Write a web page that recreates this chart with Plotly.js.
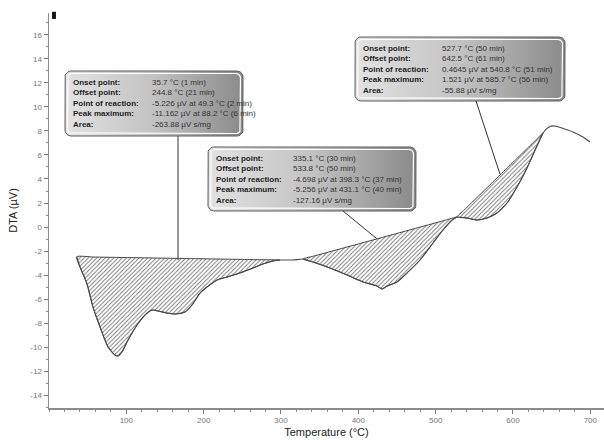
<!DOCTYPE html>
<html>
<head>
<meta charset="utf-8">
<script src="https://cdn.plot.ly/plotly-3.0.1.min.js"></script>
<style>html,body{margin:0;padding:0;background:#fff;}#chart{width:604px;height:443px;}</style>
</head>
<body>
<div id="chart"></div>
<script>
// ---- data ----
const temperature = [35.8, 40.1, 48.8, 56.9, 66.0, 76.3, 85.3, 89.0, 94.4, 102.2, 113.8, 124.1, 133.2, 141.0, 152.6, 162.9, 175.9, 184.9, 195.3, 204.3, 217.3, 230.2, 247.0, 263.8, 276.7, 289.7, 298.7, 315.5, 328.5, 341.4, 363.4, 385.4, 406.1, 424.2, 430.6, 437.1, 450.0, 463.0, 479.8, 496.6, 509.5, 521.2, 527.6, 540.5, 553.5, 566.4, 579.3, 592.3, 605.2, 618.1, 629.8, 638.8, 646.6, 654.3, 663.4, 677.6, 690.5, 699.6];
const dta = [-2.48, -3.33, -4.67, -6.67, -8.33, -10.0, -10.67, -10.75, -10.4, -9.42, -8.17, -7.33, -6.92, -7.0, -7.17, -7.25, -7.08, -6.5, -5.5, -5.0, -4.42, -4.17, -3.83, -3.42, -3.08, -2.83, -2.75, -2.75, -2.67, -2.92, -3.42, -4.0, -4.58, -4.92, -5.17, -4.92, -4.58, -3.83, -2.75, -1.33, -0.25, 0.58, 0.83, 0.75, 0.58, 0.75, 1.17, 2.0, 3.33, 4.92, 6.58, 7.83, 8.33, 8.42, 8.25, 7.92, 7.5, 7.08];
const peakStart = [35.8, 328.5, 527.6];
const peakEnd = [298.7, 527.6, 638.8];
const xTicks = [100, 200, 300, 400, 500, 600, 700];
const yTicks = [-14, -12, -10, -8, -6, -4, -2, 0, 2, 4, 6, 8, 10, 12, 14, 16];
const boxLabels = ['Onset point:', 'Offset point:', 'Point of reaction:', 'Peak maximum:', 'Area:'];
const box1Values = ['35.7 °C (1 min)', '244.8 °C (21 min)', '-5.226 µV at 49.3 °C (2 min)', '-11.162 µV at 88.2 °C (6 min)', '-263.88 µV s/mg'];
const box2Values = ['335.1 °C (30 min)', '533.8 °C (50 min)', '-4.698 µV at 398.3 °C (37 min)', '-5.256 µV at 431.1 °C (40 min)', '-127.16 µV s/mg'];
const box3Values = ['527.7 °C (50 min)', '642.5 °C (61 min)', '0.4645 µV at 540.8 °C (51 min)', '1.521 µV at 585.7 °C (56 min)', '-55.88 µV s/mg'];
const leaderTargets = [[166.8, -2.75], [424.2, -0.99], [583.2, 4.4]];

// ---- layout helpers ----
const X_MIN = 0, X_MAX = 717.7, Y_MIN = -15.08, Y_MAX = 17.83;
const PL = 49, PR = 604, PT = 13, PB = 408;
const pxX = p => X_MIN + (p - PL) / (PR - PL) * (X_MAX - X_MIN);
const pxY = p => Y_MAX - (p - PT) / (PB - PT) * (Y_MAX - Y_MIN);

function roundRect(l, t, r, b, rad) {
  const xs = [], ys = [];
  const corners = [[r - rad, t + rad, -90], [r - rad, b - rad, 0], [l + rad, b - rad, 90], [l + rad, t + rad, 180]];
  corners.forEach(([cx, cy, a0]) => {
    for (let k = 0; k <= 6; k++) {
      const a = (a0 + k * 15) * Math.PI / 180;
      xs.push(cx + rad * Math.cos(a)); ys.push(cy + rad * Math.sin(a));
    }
  });
  xs.push(xs[0]); ys.push(ys[0]);
  return {x: xs.map(pxX), y: ys.map(pxY)};
}

const traces = [];
// hatched peak areas: curve segment, closed back along the straight baseline
peakStart.forEach((s, i) => {
  const xs = [], ys = [];
  temperature.forEach((t, j) => { if (t >= s - 1e-6 && t <= peakEnd[i] + 1e-6) { xs.push(t); ys.push(dta[j]); } });
  const x0 = xs[0], y0 = ys[0], x1 = xs[xs.length - 1], y1 = ys[ys.length - 1];
  const n = 12;
  for (let k = 1; k <= n; k++) { const f = k / n; xs.push(x1 + (x0 - x1) * f); ys.push(y1 + (y0 - y1) * f); }
  traces.push({x: xs, y: ys, mode: 'lines', fill: 'toself', fillcolor: 'white',
    fillpattern: {shape: '/', fgcolor: '#777', bgcolor: 'white', size: 3, solidity: 0.3},
    line: {color: '#444', width: 1, shape: 'spline', smoothing: 0.6}, hoverinfo: 'skip', showlegend: false});
});
// DTA curve
traces.push({x: temperature, y: dta, mode: 'lines', line: {color: '#4a4a4a', width: 1.1, shape: 'spline', smoothing: 0.6}, showlegend: false});

// callout boxes
const boxes = [
  {l: 65, t: 71, r: 243, b: 136, vx: 150, vals: box1Values, lead: [178, 136]},
  {l: 208, t: 147, r: 416, b: 211, vx: 291, vals: box2Values, lead: [343, 211]},
  {l: 355, t: 37, r: 565, b: 101, vx: 440, vals: box3Values, lead: [476, 101]}
];
const annotations = [];
const shapes = [];
boxes.forEach((bx, i) => {
  const outer = roundRect(bx.l, bx.t, bx.r, bx.b, 6);
  traces.push({x: outer.x, y: outer.y, mode: 'lines', fill: 'toself',
    fillgradient: {type: 'horizontal', colorscale: [[0, '#e2e2e2'], [0.5, '#c2c2c2'], [1, '#8a8a8a']]},
    line: {color: '#5a5a5a', width: 1}, hoverinfo: 'skip', showlegend: false});
  const inner = roundRect(bx.l + 2.5, bx.t + 2.5, bx.r - 2.5, bx.b - 2.5, 4.5);
  traces.push({x: inner.x, y: inner.y, mode: 'lines', line: {color: '#ffffff', width: 1.2}, hoverinfo: 'skip', showlegend: false});
  boxLabels.forEach((lab, k) => {
    const yc = bx.t + 11 + k * 10.6;
    annotations.push({x: pxX(bx.l + 6), y: pxY(yc), xanchor: 'left', yanchor: 'middle', showarrow: false,
      text: '<b>' + lab + '</b>', font: {family: 'Liberation Sans, Arial, sans-serif', size: 8, color: '#1e1e1e'}});
    annotations.push({x: pxX(bx.vx), y: pxY(yc), xanchor: 'left', yanchor: 'middle', showarrow: false,
      text: bx.vals[k], font: {family: 'Liberation Sans, Arial, sans-serif', size: 8, color: '#333'}});
  });
  shapes.push({type: 'line', xref: 'x', yref: 'y', x0: pxX(bx.lead[0]), y0: pxY(bx.lead[1]),
    x1: leaderTargets[i][0], y1: leaderTargets[i][1], line: {color: '#333', width: 1}});
});
// small black marker at the top of the y axis
shapes.push({type: 'rect', xref: 'paper', yref: 'paper', x0: 0.0055, x1: 0.0125, y0: 0.985, y1: 1.003,
  fillcolor: '#111', line: {width: 0}});

const tickFont = {family: 'Liberation Sans, Arial, sans-serif', size: 8, color: '#777'};
const layout = {
  width: 604, height: 443,
  margin: {l: PL, r: 604 - PR, t: PT, b: 443 - PB, pad: 0},
  paper_bgcolor: '#fff', plot_bgcolor: '#fff',
  showlegend: false,
  xaxis: {range: [X_MIN, X_MAX], tickvals: xTicks, ticktext: xTicks.map(String), ticks: 'outside', ticklen: 4,
    tickcolor: '#777', showline: true, linecolor: '#8c8c8c', linewidth: 1.5, showgrid: false, zeroline: false,
    minor: {dtick: 20, tick0: 0, ticks: 'outside', ticklen: 2, tickcolor: '#888'},
    tickfont: tickFont, title: {text: 'Temperature (°C)', font: {family: 'Liberation Sans, Arial, sans-serif', size: 11, color: '#222'}, standoff: 4}},
  yaxis: {range: [Y_MIN, Y_MAX], tickvals: yTicks, ticktext: yTicks.map(String), ticks: 'outside', ticklen: 4,
    tickcolor: '#777', showline: true, linecolor: '#8c8c8c', linewidth: 1.5, showgrid: false, zeroline: false,
    minor: {dtick: 1, tick0: 0, ticks: 'outside', ticklen: 2, tickcolor: '#888'},
    tickfont: tickFont, title: {text: 'DTA (µV)', font: {family: 'Liberation Sans, Arial, sans-serif', size: 11, color: '#222'}, standoff: 10}},
  annotations: annotations,
  shapes: shapes
};
Plotly.newPlot('chart', traces, layout, {displayModeBar: false, staticPlot: true});
</script>
</body>
</html>
